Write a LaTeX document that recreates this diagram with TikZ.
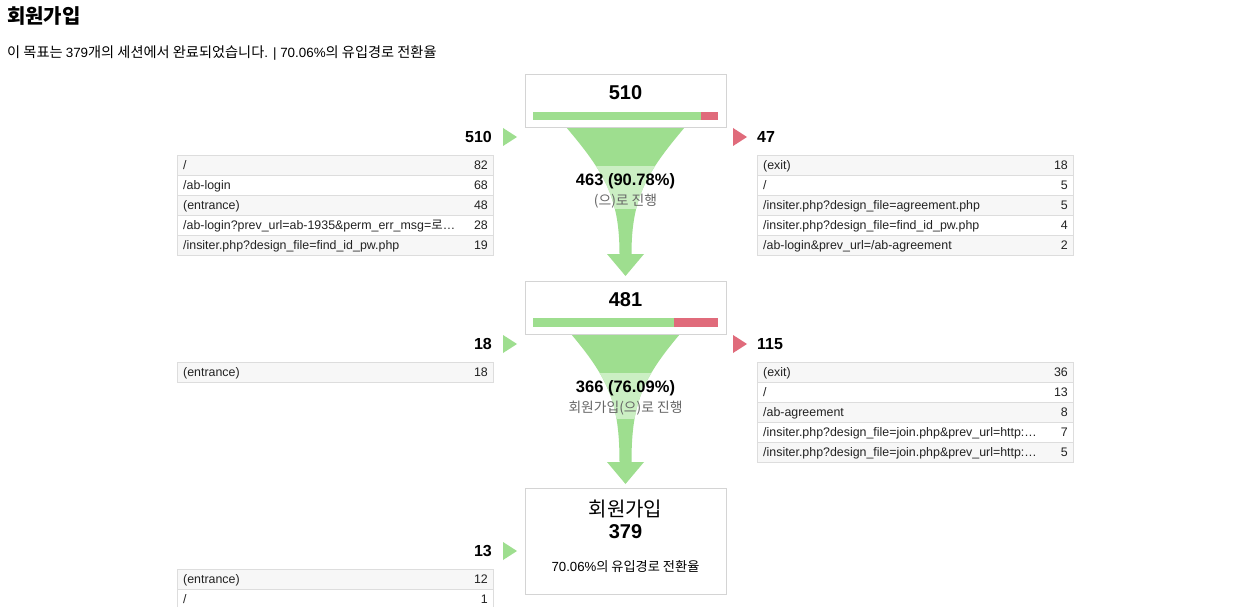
\documentclass[tikz,border=0pt]{standalone}
\usepackage{fontspec}
\setmainfont{Liberation Sans}
\newfontfamily\kr{Noto Sans CJK KR}
\definecolor{fgreen}{HTML}{9EDE8F}
\definecolor{flight}{HTML}{CBEFC3}
\definecolor{fred}{HTML}{E06B7B}
\definecolor{bordergray}{HTML}{DDDDDD}
\definecolor{boxgray}{HTML}{D4D4D4}
\definecolor{rowgray}{HTML}{F7F7F7}
\definecolor{subgray}{HTML}{666666}
\definecolor{txtgray}{HTML}{222222}
\tikzset{
  stepbox/.style={draw=boxgray, line width=0.8pt, fill=white},
  rowtxt/.style={anchor=base west, inner sep=0pt, text=txtgray, font=\fontsize{12.4}{14}\selectfont},
  rownum/.style={anchor=base east, inner sep=0pt, text=txtgray, font=\fontsize{12.4}{14}\selectfont},
  bignum/.style={inner sep=0pt, font=\bfseries\fontsize{16}{18}\selectfont},
  boxnum/.style={inner sep=0pt, font=\bfseries\fontsize{20}{22}\selectfont},
  flowlabel/.style={inner sep=0pt, font=\bfseries\fontsize{16.5}{18}\selectfont},
  flowsub/.style={inner sep=0pt, text=subgray, font=\fontsize{13.8}{16}\selectfont},
  rowbox/.style={draw=bordergray, line width=0.8pt},
}
\newcommand\trow[6]{%
  \path[rowbox, fill=#4] (#2,#3) rectangle ++(316,20);
  \node[rowtxt] (#1t) at (#2+6,#3+14.5) {#5};
  \node[rownum] (#1n) at (#2+311,#3+14.5) {#6};
}
\newcommand\funnelshape[3]{%
  (625.5-#2,#1) .. controls (625.5-#2+38,#1+45) and (619.5,#1+70) .. (619.5,#3)
  -- (607,#3) -- (625.5,#3+22) -- (644,#3) -- (631.5,#3)
  .. controls (631.5,#1+70) and (625.5+#2-38,#1+45) .. (625.5+#2,#1) -- cycle}
\newcommand\intri[1]{\fill[fgreen] (503,#1-9) -- (503,#1+9) -- (517,#1) -- cycle;}
\newcommand\outtri[1]{\fill[fred] (733,#1-9) -- (733,#1+9) -- (747,#1) -- cycle;}
\begin{document}
\begin{tikzpicture}[x=1pt,y=-1pt]
\useasboundingbox[fill=white] (0,0) rectangle (1248,607);

% title
\node[anchor=west, inner sep=0pt, font=\kr\bfseries\fontsize{20}{22}\selectfont] (title) at (7,16) {회원가입};
\node[anchor=base west, inner sep=0pt, font=\fontsize{13.4}{15}\selectfont] (subtitle) at (7,58)
  {{\kr\fontsize{14.2}{15}\selectfont 이 목표는 }379{\kr\fontsize{14.2}{15}\selectfont 개의 세션에서 완료되었습니다}. | 70.06\%{\kr\fontsize{14.2}{15}\selectfont 의 유입경로 전환율}};

% funnels
\fill[fgreen] \funnelshape{127}{59.5}{254};
\begin{scope}
  \clip (500,167) rectangle (750,208);
  \fill[flight] \funnelshape{127}{59.5}{254};
\end{scope}
\fill[fgreen] \funnelshape{334}{54.5}{462};
\begin{scope}
  \clip (500,373) rectangle (750,418);
  \fill[flight] \funnelshape{334}{54.5}{462};
\end{scope}

% step 1 box
\draw[stepbox] (525,74) rectangle (726,127);
\node[boxnum] (s1) at (625.5,93) {510};
\fill[fgreen] (533,112) rectangle (701,120);
\fill[fred] (701,112) rectangle (718,120);
\node[flowlabel] (f1) at (625.5,181) {463 (90.78\%)};
\node[flowsub] (f1s) at (625.5,201) {\kr (으)로 진행};

% step 1 sides
\node[bignum, anchor=east] (in1) at (492,137) {510};
\intri{137}
\outtri{137}
\node[bignum, anchor=west] (out1) at (757,137) {47};
\trow{a1}{177}{155}{rowgray}{/}{82}
\trow{a2}{177}{175}{white}{/ab-login}{68}
\trow{a3}{177}{195}{rowgray}{(entrance)}{48}
\trow{a4}{177}{215}{white}{/ab-login?prev\_url=ab-1935\&perm\_err\_msg={\kr 로}…}{28}
\trow{a5}{177}{235}{rowgray}{/insiter.php?design\_file=find\_id\_pw.php}{19}
\trow{b1}{757}{155}{rowgray}{(exit)}{18}
\trow{b2}{757}{175}{white}{/}{5}
\trow{b3}{757}{195}{rowgray}{/insiter.php?design\_file=agreement.php}{5}
\trow{b4}{757}{215}{white}{/insiter.php?design\_file=find\_id\_pw.php}{4}
\trow{b5}{757}{235}{rowgray}{/ab-login\&prev\_url=/ab-agreement}{2}

% step 2 box
\draw[stepbox] (525,281) rectangle (726,334);
\node[boxnum] (s2) at (625.5,300) {481};
\fill[fgreen] (533,318) rectangle (674,327);
\fill[fred] (674,318) rectangle (718,327);
\node[flowlabel] (f2) at (625.5,388) {366 (76.09\%)};
\node[flowsub] (f2s) at (625.5,408) {\kr 회원가입(으)로 진행};

% step 2 sides
\node[bignum, anchor=east] (in2) at (492,344) {18};
\intri{344}
\outtri{344}
\node[bignum, anchor=west] (out2) at (757,344) {115};
\trow{c1}{177}{362}{rowgray}{(entrance)}{18}
\trow{d1}{757}{362}{rowgray}{(exit)}{36}
\trow{d2}{757}{382}{white}{/}{13}
\trow{d3}{757}{402}{rowgray}{/ab-agreement}{8}
\trow{d4}{757}{422}{white}{/insiter.php?design\_file=join.php\&prev\_url=http:…}{7}
\trow{d5}{757}{442}{rowgray}{/insiter.php?design\_file=join.php\&prev\_url=http:…}{5}

% goal box
\draw[stepbox] (525,488) rectangle (726,594);
\node[inner sep=0pt, font=\kr\fontsize{20}{22}\selectfont] (g1) at (625.5,509) {회원가입};
\node[boxnum] (g2) at (625.5,532) {379};
\node[inner sep=0pt, font=\fontsize{13.2}{15}\selectfont] (g3) at (625.5,567) {70.06\%{\kr 의 유입경로 전환율}};

% goal sides
\node[bignum, anchor=east] (in3) at (492,551) {13};
\intri{551}
\trow{e1}{177}{569}{rowgray}{(entrance)}{12}
\trow{e2}{177}{589}{white}{/}{1}
\end{tikzpicture}
\end{document}
